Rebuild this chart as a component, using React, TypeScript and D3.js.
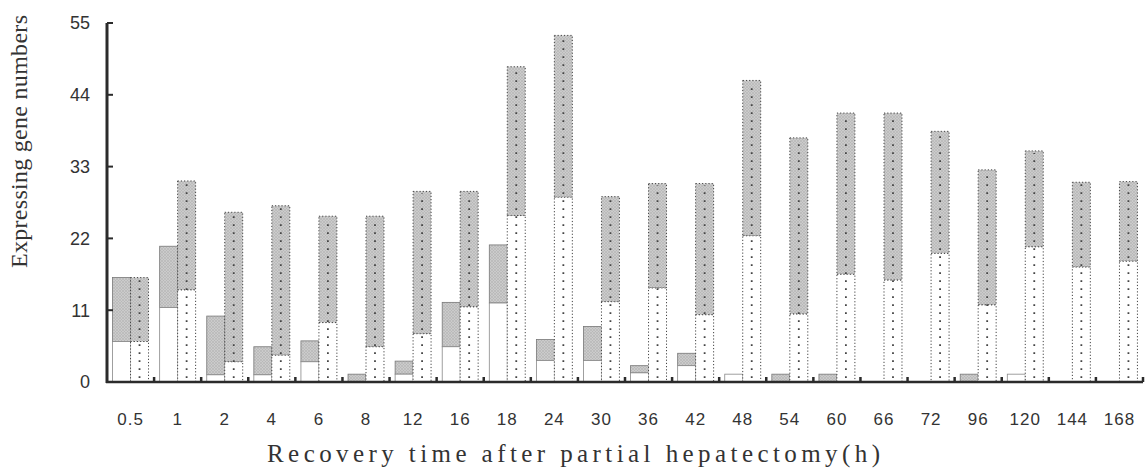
import { useEffect, useRef } from "react";
import { select, scaleBand, scaleLinear, range } from "d3";

const categories = ["0.5", "1", "2", "4", "6", "8", "12", "16", "18", "24", "30", "36", "42", "48", "54", "60", "66", "72", "96", "120", "144", "168"];
// left bar: white lower part and total height (grey hatched on top)
const leftWhite = [6.2, 11.4, 1.1, 1.1, 3.1, 0, 1.2, 5.4, 12.1, 3.3, 3.3, 1.4, 2.5, 1.2, 0, 0, 0, 0, 0, 1.2, 0, 0];
const leftTotal = [16, 20.8, 10.1, 5.4, 6.3, 1.2, 3.2, 12.2, 21, 6.5, 8.5, 2.5, 4.4, 1.2, 1.2, 1.2, 0, 0, 1.2, 1.2, 0, 0];
// right bar: dotted lower part and total height (dotted grey on top)
const rightWhite = [6.2, 14.1, 3.1, 4.1, 9.1, 5.4, 7.4, 11.5, 25.5, 28.3, 12.3, 14.4, 10.3, 22.4, 10.4, 16.5, 15.6, 19.7, 11.8, 20.7, 17.6, 18.5];
const rightTotal = [16, 30.8, 26, 27, 25.4, 25.4, 29.2, 29.2, 48.3, 53.1, 28.4, 30.4, 30.4, 46.2, 37.4, 41.2, 41.2, 38.4, 32.5, 35.4, 30.6, 30.7];
const yTicks = [0, 11, 22, 33, 44, 55];

const W = 1147;
const H = 469;

export default function App() {
  const ref = useRef<SVGSVGElement>(null);

  useEffect(() => {
    const svg = select(ref.current);
    svg.selectAll("*").remove();

    const x = scaleBand<string>().domain(categories).range([107, 1143]);
    const inner = scaleBand<string>().domain(["l", "r"]).range([0, x.bandwidth()]).paddingOuter(0.31);
    const y = scaleLinear().domain([0, 55]).range([382, 23]);
    const bw = inner.bandwidth();

    const defs = svg.append("defs");
    const hatch = defs
      .append("pattern")
      .attr("id", "hatch")
      .attr("patternUnits", "userSpaceOnUse")
      .attr("width", 3)
      .attr("height", 3);
    hatch.append("rect").attr("width", 3).attr("height", 3).attr("fill", "#cbcbcb");
    hatch.append("path").attr("d", "M0,3 L3,0 M0,0 L3,3").attr("stroke", "#b3b3b3").attr("stroke-width", 0.6);

    const g = svg.append("g");

    categories.forEach((c, i) => {
      const x0 = (x(c) ?? 0) + (inner("l") ?? 0);
      const x1 = (x(c) ?? 0) + (inner("r") ?? 0);

      // left bar
      if (leftTotal[i] > leftWhite[i]) {
        g.append("rect")
          .attr("x", x0)
          .attr("y", y(leftTotal[i]))
          .attr("width", bw)
          .attr("height", y(leftWhite[i]) - y(leftTotal[i]))
          .attr("fill", "url(#hatch)")
          .attr("stroke", "#777")
          .attr("stroke-width", 0.8);
      }
      if (leftWhite[i] > 0) {
        g.append("rect")
          .attr("x", x0)
          .attr("y", y(leftWhite[i]))
          .attr("width", bw)
          .attr("height", y(0) - y(leftWhite[i]))
          .attr("fill", "#fff")
          .attr("stroke", "#888")
          .attr("stroke-width", 0.8);
      }

      // right bar
      g.append("rect")
        .attr("x", x1)
        .attr("y", y(rightTotal[i]))
        .attr("width", bw)
        .attr("height", y(rightWhite[i]) - y(rightTotal[i]))
        .attr("fill", "url(#hatch)")
        .attr("stroke", "#444")
        .attr("stroke-width", 1)
        .attr("stroke-dasharray", "1.2,2");
      g.append("rect")
        .attr("x", x1)
        .attr("y", y(rightWhite[i]))
        .attr("width", bw)
        .attr("height", y(0) - y(rightWhite[i]))
        .attr("fill", "#fff")
        .attr("stroke", "#444")
        .attr("stroke-width", 1)
        .attr("stroke-dasharray", "1.2,2");
      g.append("line")
        .attr("x1", x1 + bw / 2)
        .attr("x2", x1 + bw / 2)
        .attr("y1", y(0) - 4)
        .attr("y2", y(rightTotal[i]) + 2)
        .attr("stroke", "#444")
        .attr("stroke-width", 1.8)
        .attr("stroke-dasharray", "1.8,6.2");
    });

    // axes
    const axisColor = "#2b2b2b";
    svg.append("line")
      .attr("x1", 107).attr("x2", 107)
      .attr("y1", y(55)).attr("y2", y(0) + 1)
      .attr("stroke", axisColor).attr("stroke-width", 3);
    svg.append("line")
      .attr("x1", 106).attr("x2", 1143)
      .attr("y1", y(0)).attr("y2", y(0))
      .attr("stroke", axisColor).attr("stroke-width", 2.5);

    yTicks.forEach((t) => {
      svg.append("line")
        .attr("x1", 107).attr("x2", 113)
        .attr("y1", y(t)).attr("y2", y(t))
        .attr("stroke", axisColor).attr("stroke-width", 2);
      svg.append("text")
        .attr("x", 90).attr("y", y(t))
        .attr("dy", "0.36em")
        .attr("text-anchor", "end")
        .attr("font-family", "'Liberation Sans', Arial, sans-serif")
        .attr("font-size", 18)
        .attr("fill", "#333")
        .text(t);
    });

    range(1, categories.length + 1).forEach((i) => {
      const bx = 107 + i * x.step();
      svg.append("line")
        .attr("x1", bx).attr("x2", bx)
        .attr("y1", y(0)).attr("y2", y(0) - 5)
        .attr("stroke", axisColor).attr("stroke-width", 2.5);
    });

    categories.forEach((c) => {
      svg.append("text")
        .attr("x", (x(c) ?? 0) + x.bandwidth() / 2)
        .attr("y", 425)
        .attr("text-anchor", "middle")
        .attr("font-family", "'Liberation Sans', Arial, sans-serif")
        .attr("font-size", 17)
        .attr("letter-spacing", 1)
        .attr("fill", "#333")
        .text(c);
    });

    svg.append("text")
      .attr("x", 267)
      .attr("y", 462)
      .attr("textLength", 613)
      .attr("lengthAdjust", "spacing")
      .attr("font-family", "'Liberation Serif', 'Times New Roman', serif")
      .attr("font-size", 25)
      .attr("fill", "#333")
      .text("Recovery time after partial hepatectomy(h)");

    svg.append("text")
      .attr("transform", "translate(27,268) rotate(-90)")
      .attr("textLength", 253)
      .attr("lengthAdjust", "spacing")
      .attr("font-family", "'Liberation Serif', 'Times New Roman', serif")
      .attr("font-size", 24)
      .attr("fill", "#333")
      .text("Expressing gene numbers");
  }, []);

  return (
    <svg
      ref={ref}
      width={W}
      height={H}
      style={{ position: "absolute", left: 0, top: 0, background: "#fff" }}
    />
  );
}
